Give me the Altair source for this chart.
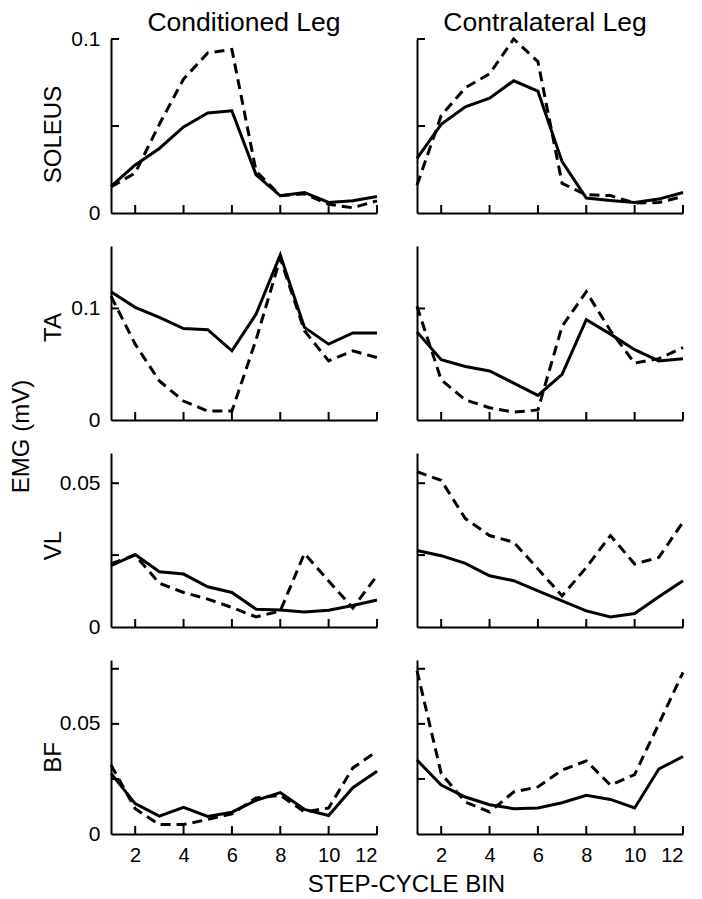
import altair as alt
import pandas as pd

FONT = "Liberation Sans"

bins = list(range(1, 13))
legs = ["Conditioned Leg", "Contralateral Leg"]
muscles = ["SOLEUS", "TA", "VL", "BF"]
x_tick_values = [2, 4, 6, 8, 10, 12]
y_unit_label = "EMG (mV)"

# SOLEUS
soleus_cond_solid = [0.0153, 0.0276, 0.0371, 0.0495, 0.0575, 0.0587, 0.0219, 0.0099, 0.0118, 0.0061, 0.0070, 0.0095]
soleus_cond_dashed = [0.0150, 0.0230, 0.0510, 0.0770, 0.0920, 0.0940, 0.0240, 0.0100, 0.0110, 0.0050, 0.0030, 0.0070]
soleus_contra_solid = [0.0314, 0.0510, 0.0610, 0.0660, 0.0760, 0.0700, 0.0295, 0.0086, 0.0072, 0.0061, 0.0080, 0.0118]
soleus_contra_dashed = [0.0160, 0.0560, 0.0720, 0.0800, 0.1000, 0.0870, 0.0170, 0.0105, 0.0100, 0.0057, 0.0060, 0.0095]

# TA
ta_cond_solid = [0.115, 0.101, 0.092, 0.082, 0.081, 0.062, 0.095, 0.148, 0.083, 0.068, 0.078, 0.078]
ta_cond_dashed = [0.111, 0.068, 0.035, 0.017, 0.008, 0.008, 0.072, 0.145, 0.080, 0.053, 0.062, 0.056]
ta_contra_solid = [0.079, 0.054, 0.048, 0.044, 0.033, 0.022, 0.041, 0.090, 0.077, 0.063, 0.053, 0.055]
ta_contra_dashed = [0.102, 0.036, 0.018, 0.011, 0.007, 0.009, 0.084, 0.115, 0.080, 0.051, 0.055, 0.065]

# VL
vl_cond_solid = [0.0213, 0.0252, 0.0192, 0.0184, 0.0140, 0.0120, 0.0062, 0.0059, 0.0052, 0.0058, 0.0075, 0.0094]
vl_cond_dashed = [0.0220, 0.0250, 0.0152, 0.0120, 0.0097, 0.0068, 0.0035, 0.0056, 0.0256, 0.0160, 0.0066, 0.0178]
vl_contra_solid = [0.0266, 0.0248, 0.0221, 0.0178, 0.0161, 0.0126, 0.0091, 0.0056, 0.0035, 0.0047, 0.0105, 0.0161]
vl_contra_dashed = [0.0540, 0.0510, 0.0377, 0.0318, 0.0295, 0.0202, 0.0108, 0.0207, 0.0318, 0.0219, 0.0242, 0.0365]

# BF
bf_cond_solid = [0.0275, 0.0138, 0.0081, 0.0121, 0.0080, 0.0099, 0.0153, 0.0188, 0.0112, 0.0084, 0.0210, 0.0285]
bf_cond_dashed = [0.0313, 0.0115, 0.0043, 0.0043, 0.0066, 0.0092, 0.0164, 0.0176, 0.0100, 0.0118, 0.0300, 0.0376]
bf_contra_solid = [0.0336, 0.0222, 0.0168, 0.0133, 0.0115, 0.0118, 0.0142, 0.0176, 0.0157, 0.0118, 0.0295, 0.0352]
bf_contra_dashed = [0.0742, 0.0275, 0.0145, 0.0100, 0.0191, 0.0214, 0.0290, 0.0332, 0.0222, 0.0270, 0.0500, 0.0734]

y_max = {"SOLEUS": 0.1, "TA": 0.156, "VL": 0.0605, "BF": 0.079}
y_tick_values = {"SOLEUS": [0.05, 0.1], "TA": [0.1], "VL": [0.025, 0.05], "BF": [0.025, 0.05, 0.075]}
y_label_values = {"SOLEUS": [0, 0.1], "TA": [0, 0.1], "VL": [0, 0.05], "BF": [0, 0.05]}
y_title_pos = {"SOLEUS": 95, "TA": 81, "VL": 92, "BF": 97}

series = {
    ("SOLEUS", 0): (soleus_cond_solid, soleus_cond_dashed),
    ("SOLEUS", 1): (soleus_contra_solid, soleus_contra_dashed),
    ("TA", 0): (ta_cond_solid, ta_cond_dashed),
    ("TA", 1): (ta_contra_solid, ta_contra_dashed),
    ("VL", 0): (vl_cond_solid, vl_cond_dashed),
    ("VL", 1): (vl_contra_solid, vl_contra_dashed),
    ("BF", 0): (bf_cond_solid, bf_cond_dashed),
    ("BF", 1): (bf_contra_solid, bf_contra_dashed),
}

W, H = 266, 174
ROW_GAP = 33
TICK = 8


def panel(muscle, leg_idx, row_idx):
    solid, dashed = series[(muscle, leg_idx)]
    df = pd.DataFrame({"bin": bins, "solid": solid, "dashed": dashed})
    xs = alt.Scale(domain=[1, 12], nice=False, zero=False)
    ys = alt.Scale(domain=[0, y_max[muscle]], nice=False, zero=True)
    bottom = row_idx == len(muscles) - 1
    left = leg_idx == 0

    x_axis_kw = dict(values=x_tick_values, ticks=False, grid=False, domain=True,
                     domainColor="black", domainWidth=2, labels=bottom,
                     labelFontSize=20, labelPadding=11, labelColor="black", labelFont=FONT)
    if bottom and left:
        x_axis_kw.update(title="STEP-CYCLE BIN", titleFontSize=24, titleFont=FONT,
                         titleFontWeight="normal", titleColor="black",
                         titleX=295, titleY=57, titleAlign="center", titleBaseline="alphabetic")
    else:
        x_axis_kw.update(title="")
    x_axis = alt.Axis(**x_axis_kw)

    y_axis_kw = dict(values=y_label_values[muscle], ticks=False, grid=False, domain=True,
                     domainColor="black", domainWidth=2, labels=left, format="~g",
                     labelFontSize=21, labelPadding=11, labelColor="black", labelFont=FONT)
    if left:
        y_axis_kw.update(title=muscle, titleFontSize=24, titleFont=FONT, titleFontWeight="normal",
                         titleColor="black", titleX=-51, titleY=y_title_pos[muscle],
                         titleAlign="center", titleBaseline="alphabetic")
    else:
        y_axis_kw.update(title="")
    y_axis = alt.Axis(**y_axis_kw)

    base = alt.Chart(df)
    solid_line = base.mark_line(color="black", strokeWidth=3).encode(
        x=alt.X("bin:Q", scale=xs, axis=x_axis),
        y=alt.Y("solid:Q", scale=ys, axis=y_axis),
    )
    dashed_line = base.mark_line(color="black", strokeWidth=3, strokeDash=[10, 6]).encode(
        x=alt.X("bin:Q", scale=xs, axis=x_axis),
        y=alt.Y("dashed:Q", scale=ys, axis=y_axis),
    )
    ytk = alt.Chart(pd.DataFrame({"v": y_tick_values[muscle]})).mark_rule(
        color="black", strokeWidth=2).encode(
        y=alt.Y("v:Q", scale=ys, axis=y_axis),
        x=alt.value(0), x2=alt.value(TICK),
    )
    xtk = alt.Chart(pd.DataFrame({"b": x_tick_values})).mark_rule(
        color="black", strokeWidth=2).encode(
        x=alt.X("b:Q", scale=xs, axis=x_axis),
        y=alt.value(H), y2=alt.value(H - TICK),
    )
    layers = [solid_line, dashed_line, ytk, xtk]
    if row_idx == 0:
        head = alt.Chart(pd.DataFrame({"t": [legs[leg_idx]]})).mark_text(
            font=FONT, fontSize=26.5, color="black", align="center", baseline="alphabetic",
            dx=0 if left else -5,
        ).encode(text="t:N", x=alt.value(W / 2), y=alt.value(-8))
        layers.append(head)
    if row_idx == 1 and left:
        unit = alt.Chart(pd.DataFrame({"t": [y_unit_label]})).mark_text(
            font=FONT, fontSize=24, color="black", align="center", baseline="alphabetic",
            angle=270,
        ).encode(text="t:N", x=alt.value(-82), y=alt.value(H + ROW_GAP / 2))
        layers.append(unit)
    return alt.layer(*layers).properties(width=W, height=H)


panels = []
for r, m in enumerate(muscles):
    for li in range(2):
        panels.append(panel(m, li, r))

chart = alt.concat(
    *panels, columns=2,
    spacing=alt.RowColnumber(row=ROW_GAP, column=40),
    bounds="flush",
).properties(
    padding={"left": 2, "top": 2, "right": 5, "bottom": 0},
    background="white",
).configure_view(stroke=None)

chart.save("out.html", embed_options={"renderer": "svg", "actions": False})
